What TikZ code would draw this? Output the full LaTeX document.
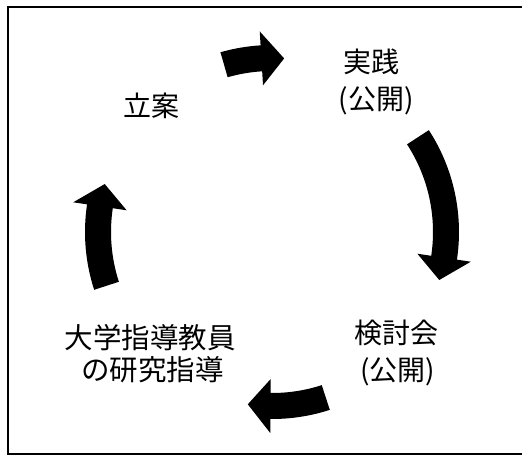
\documentclass[tikz,border=0pt]{standalone}
\usepackage{fontspec}
\setmainfont{Noto Sans CJK JP}
\begin{document}
\begin{tikzpicture}
\tikzset{
  lbl/.style={inner sep=0pt, font=\fontsize{28pt}{31pt}\selectfont},
  lblbig/.style={inner sep=0pt, font=\fontsize{28.5pt}{31pt}\selectfont},
  arrowfill/.style={fill=black},
  pics/cyclearrow/.style args={#1/#2}{code={
    \pgfmathsetmacro\headbase{#2+7.5}
    \fill[arrowfill] (#1:187pt) arc[start angle=#1, end angle=\headbase, radius=187pt]
      -- (\headbase:201pt) -- (#2:174pt) -- (\headbase:147pt) -- (\headbase:161pt)
      arc[start angle=\headbase, end angle=#1, radius=161pt] -- cycle;
  }}
}
\useasboundingbox (0pt,0pt) rectangle (522pt,-456pt);
\fill[white] (0pt,0pt) rectangle (522pt,-456pt);
% frame
\draw[line width=1.6pt] (522pt,-7pt) -- (8pt,-7pt) -- (8pt,-454pt) -- (522pt,-454pt);
\draw[line width=2.6pt] (8pt,-7pt) -- (8pt,-454pt);
% labels
\node[lbl] (plan) at (151.5pt,-105.5pt) {立案};
\node[lbl] (prac) at (371.5pt,-61.5pt) {実践};
\node[lbl] (prac2) at (376pt,-101pt) {(公開)};
\node[lbl] (review) at (396pt,-332.5pt) {検討会};
\node[lbl] (review2) at (397.5pt,-371.5pt) {(公開)};
\node[lblbig] (univ) at (150pt,-338pt) {大学指導教員};
\node[lblbig] (univ2) at (152.5pt,-370pt) {の研究指導};
% cycle arrows
\coordinate (ctr) at (272pt,-232pt);
\pic at (ctr) {cyclearrow={106/86}};
\pic at (ctr) {cyclearrow={33/-16}};
\pic at (ctr) {cyclearrow={-72/-98}};
\pic at (ctr) {cyclearrow={198/164}};
\end{tikzpicture}
\end{document}
